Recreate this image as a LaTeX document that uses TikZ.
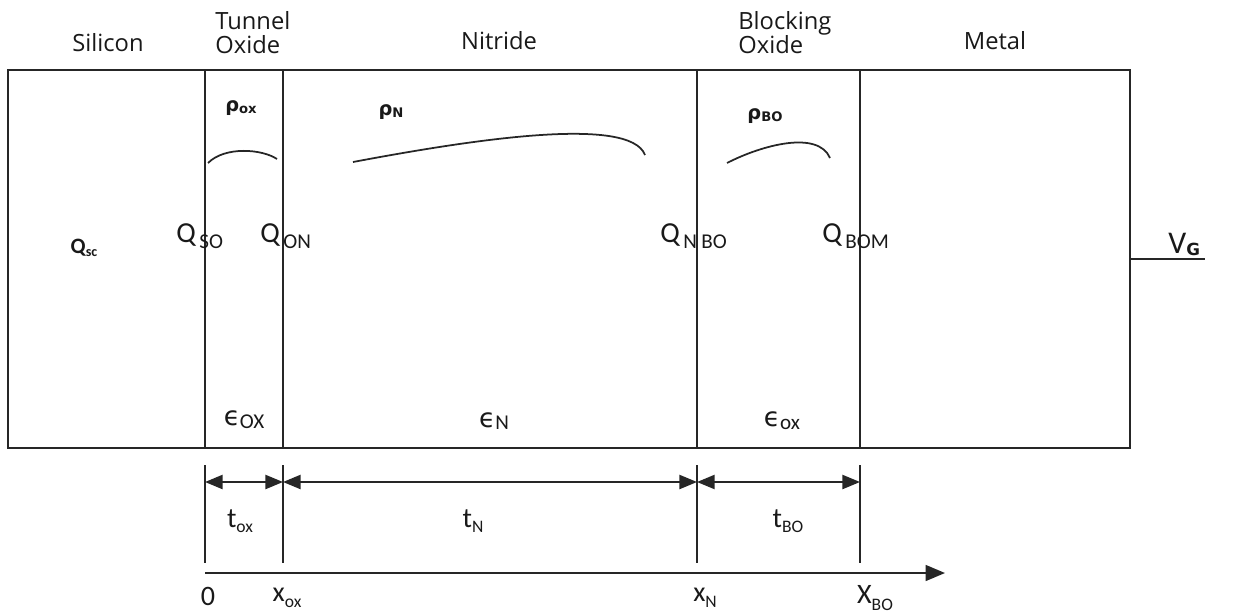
\documentclass[tikz,border=0pt]{standalone}
\usepackage{fontspec}
\setmainfont{Open Sans}
\newfontfamily\calfont{Carlito}
\newfontfamily\dvfont{DejaVu Sans}
\usetikzlibrary{arrows.meta}

% label helpers
\newcommand{\qlab}[1]{{\calfont\fontsize{16.5}{18}\selectfont Q\kern2pt\raisebox{-3.5pt}{\fontsize{12}{13}\selectfont #1}}}
\newcommand{\eplab}[1]{{\dvfont\fontsize{15}{17}\selectfont\char"03F5}{\calfont\fontsize{12}{13}\selectfont\raisebox{-1.5pt}{#1}}}
\newcommand{\tlab}[1]{{\calfont\fontsize{16}{18}\selectfont t\raisebox{-3pt}{\fontsize{10}{12}\selectfont #1}}}
\newcommand{\xlab}[2]{{\calfont\fontsize{16}{18}\selectfont #1\raisebox{-3.5pt}{\fontsize{10}{12}\selectfont #2}}}
\newcommand{\rholab}[1]{{\dvfont\bfseries\fontsize{11}{13}\selectfont\char"03C1\raisebox{-1pt}{\fontsize{7.5}{8}\selectfont #1}}}

\begin{document}
\begin{tikzpicture}[
  x=0.02cm, y=-0.02cm,
  wall/.style  = {line width=1.1pt, black!85},
  layer/.style = {font=\fontsize{13.5}{13.6}\selectfont, inner sep=0pt, text=black!90},
  dim/.style   = {line width=1.1pt, black!85, {Triangle[length=10pt,width=8pt]}-{Triangle[length=10pt,width=8pt]}},
  tick/.style  = {line width=1.1pt, black!85},
  dens/.style  = {line width=1pt, black!85},
  lbl/.style   = {inner sep=0pt, text=black!90}
]
\useasboundingbox (0,0) rectangle (1236,612);

% layer boundaries
\coordinate (s0) at (8,70);
\coordinate (s1) at (1130,448);
\coordinate (b0) at (205,70);
\coordinate (b1) at (283,70);
\coordinate (b2) at (697,70);
\coordinate (b3) at (860,70);

% stack
\draw[wall] (s0) rectangle (s1);
\foreach \b in {b0,b1,b2,b3}
  \draw[wall] (\b) -- (\b |- s1);

% gate lead
\coordinate (g0) at (1130,259);
\coordinate (g1) at (1205,259);
\draw[wall] (g0) -- (g1);
\node[lbl, anchor=base west] (vg) at (1168,253) {{\calfont\fontsize{18}{19}\selectfont V}{\dvfont\bfseries\fontsize{9.5}{11}\selectfont\raisebox{-1.5pt}{G}}};

% layer names
\node[layer, anchor=base] (si)   at (108,51) {Silicon};
\node[layer, anchor=south west, align=left] (tunox) at (215,54) {Tunnel\\Oxide};
\node[layer, anchor=base] (nit)  at (499,49) {Nitride};
\node[layer, anchor=south west, align=left] (blkox) at (738,54) {Blocking\\Oxide};
\node[layer, anchor=base] (met)  at (995,49) {Metal};

% charge densities
\node[lbl] (rox) at (241,108) {\rholab{ox}};
\node[lbl] (rn)  at (391,112) {\rholab{N}};
\node[lbl] (rbo) at (765,116) {\rholab{BO}};
\draw[dens] (208,163) .. controls (225,146) and (262,149) .. (277,159);
\draw[dens] (353,162) .. controls (470,140) and (630,115) .. (645,155);
\draw[dens] (727,163) .. controls (762,145) and (818,130) .. (830,158);

% interface charges
\node[lbl] (qsc)  at (84,248) {{\calfont\bfseries\fontsize{12.5}{13}\selectfont Q\raisebox{-1.5pt}{\fontsize{8}{9}\selectfont sc}}};
\node[lbl, anchor=base west] (qso)  at (176,242) {\qlab{SO}};
\node[lbl, anchor=base west] (qon)  at (260,242) {\qlab{ON}};
\node[lbl, anchor=base west] (qnbo) at (660,242) {\qlab{N\kern2.5pt BO}};
\node[lbl, anchor=base west] (qbom) at (822,242) {\qlab{BOM}};

% permittivities
\node[lbl] (eox) at (244,420) {\eplab{OX}};
\node[lbl] (en)  at (494,421) {\eplab{N}};
\node[lbl] (ebo) at (782,421) {\eplab{ox}};

% thickness marks
\coordinate (d0) at (205,465);
\coordinate (d1) at (283,465);
\coordinate (d2) at (697,465);
\coordinate (d3) at (860,465);
\foreach \d in {d0,d1,d2,d3}
  \draw[tick] (\d) -- ++(0,98);
\draw[dim] ([yshift=-17*0.02cm]d0) -- ([yshift=-17*0.02cm]d1);
\draw[dim] ([yshift=-17*0.02cm]d1) -- ([yshift=-17*0.02cm]d2);
\draw[dim] ([yshift=-17*0.02cm]d2) -- ([yshift=-17*0.02cm]d3);
\node[lbl] (tox) at (240,521) {\tlab{ox}};
\node[lbl] (tn)  at (473,521) {\tlab{N}};
\node[lbl] (tbo) at (788,521) {\tlab{BO}};

% position axis
\coordinate (a0) at (205,573);
\coordinate (a1) at (945,573);
\draw[line width=1.1pt, black!85, -{Triangle[length=11pt,width=9pt]}] (a0) -- (a1);
\node[lbl] (x0)  at (208,596) {{\calfont\fontsize{16}{18}\selectfont 0}};
\node[lbl] (xox) at (287,598) {\xlab{x}{ox}};
\node[lbl] (xn)  at (705,598) {\xlab{x}{N}};
\node[lbl] (xbo) at (875,598) {\xlab{X}{BO}};
\end{tikzpicture}
\end{document}
